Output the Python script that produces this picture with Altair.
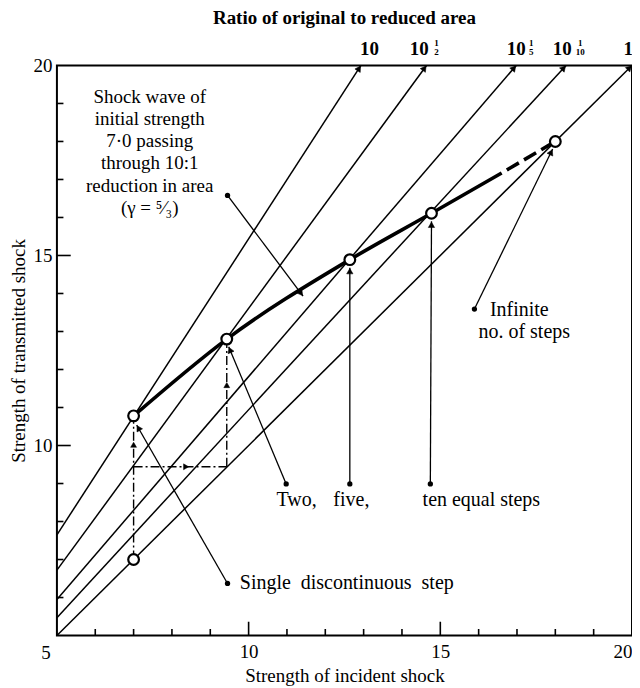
import math
import altair as alt
import pandas as pd

FONT = "Liberation Serif"
W, H = 576, 571
SPAN = 15.0

# ---------------- data ----------------
ratio_names = ["10", "10^(1/2)", "10^(1/5)", "10^(1/10)", "1"]
ratio_y_at_left = [7.65, 6.72, 5.95, 5.47, 5.0]      # transmitted strength at incident = 5
ratio_x_at_top = [12.93, 14.64, 16.98, 18.28, 20.0]  # incident strength at transmitted = 20

curve_x = [7.0, 9.43, 12.64, 14.77, 16.60]
curve_y = [10.78, 12.80, 14.89, 16.11, 17.17]
curve_tail_x = [16.60, 18.0]
curve_tail_y = [17.17, 18.0]

circle_x = [7.0, 7.0, 9.43, 12.64, 14.77, 18.0]
circle_y = [7.0, 10.78, 12.80, 14.89, 16.11, 18.0]

step_x0 = [7.0, 7.0, 9.43]
step_y0 = [7.0, 9.44, 9.44]
step_x1 = [7.0, 9.43, 9.43]
step_y1 = [10.78, 9.44, 12.80]
step_arrow_x = [7.0, 8.37, 9.43]
step_arrow_y = [10.02, 9.44, 11.59]

pointer_x0 = [9.45, 10.98, 12.64, 14.74, 9.45, 15.89]
pointer_y0 = [16.58, 8.99, 8.99, 8.99, 6.37, 13.59]
pointer_x1 = [11.42, 9.48, 12.64, 14.77, 7.08, 17.93]
pointer_y1 = [13.93, 12.60, 14.68, 15.90, 10.54, 17.80]

shock_text = ["Shock wave of", "initial strength", "7·0 passing",
              "through 10:1", "reduction in area", "(γ = ⁵⁄₃)"]
shock_text_x = [7.42] * 6
shock_text_y = [19.18, 18.58, 18.00, 17.42, 16.84, 16.24]

centre_text = ["Two,", "five,", "ten equal steps", "Infinite", "no. of steps"]
centre_text_x = [11.25, 12.68, 16.07, 17.06, 17.19]
centre_text_y = [8.57, 8.57, 8.57, 13.56, 12.98]

left_text = ["Single\u00a0\u00a0discontinuous\u00a0\u00a0step"]
left_text_x = [9.77]
left_text_y = [6.37]

top_base_text = ["10", "10", "10", "10", "1"]
top_base_x = [13.15, 14.45, 16.98, 18.18, 19.9]
top_base_y = [20.43] * 5
top_num_text = ["1", "1", "1"]
top_den_text = ["2", "5", "10"]
top_frac_x = [14.90, 17.37, 18.65]
top_num_y = [20.60] * 3
top_den_y = [20.36] * 3

title_text = ["Ratio of original to reduced area"]
title_x = [12.5]
title_y = [21.26]

minor_ticks = [6, 7, 8, 9, 11, 12, 13, 14, 16, 17, 18, 19]
major_ticks = [10, 15]
minor_len = 0.17
major_len = 0.36

# ---------------- helpers ----------------
xs = alt.Scale(domain=[5, 20], nice=False, zero=False)
ys = alt.Scale(domain=[5, 20], nice=False, zero=False)
ax_x = alt.Axis(values=[10, 15, 20], title="Strength of incident shock", grid=False,
                ticks=False, tickSize=0, domain=False, labelFont=FONT, labelFontSize=19,
                labelColor="black", labelPadding=7, labelFlush=True, labelOverlap=False,
                titleFont=FONT, titleFontSize=19, titleFontWeight="normal",
                titleColor="black", titlePadding=5, format="d")
ax_y = alt.Axis(values=[10, 15, 20], title="Strength of transmitted shock", grid=False,
                ticks=False, tickSize=0, domain=False, labelFont=FONT, labelFontSize=19,
                labelColor="black", labelPadding=5, labelOverlap=False,
                titleFont=FONT, titleFontSize=19, titleFontWeight="normal",
                titleColor="black", titlePadding=4, format="d")


def X(f):
    return alt.X(f, type="quantitative", scale=xs, axis=ax_x)


def Y(f):
    return alt.Y(f, type="quantitative", scale=ys, axis=ax_y)


def head(x0, y0, x1, y1, back_px):
    dxp = (x1 - x0) * W / SPAN
    dyp = (y1 - y0) * H / SPAN
    L = math.hypot(dxp, dyp)
    ang = math.degrees(math.atan2(dxp, dyp)) % 360
    bx = x1 - back_px * dxp / L / (W / SPAN)
    by = y1 - back_px * dyp / L / (H / SPAN)
    return bx, by, ang


# ---------------- frames ----------------
fam_rows = []
for n, yl, xt in zip(ratio_names, ratio_y_at_left, ratio_x_at_top):
    fam_rows.append({"name": n, "x": 5.0, "y": yl, "o": 0})
    fam_rows.append({"name": n, "x": xt, "y": 20.0, "o": 1})
fam_df = pd.DataFrame(fam_rows)

fam_head_rows = []
for yl, xt in zip(ratio_y_at_left, ratio_x_at_top):
    bx, by, a = head(5.0, yl, xt, 20.0, 3.5)
    fam_head_rows.append({"x": bx, "y": by, "a": a})
fam_head_df = pd.DataFrame(fam_head_rows)

curve_df = pd.DataFrame({"x": curve_x, "y": curve_y})
tail_df = pd.DataFrame({"x": curve_tail_x, "y": curve_tail_y})
circ_df = pd.DataFrame({"x": circle_x, "y": circle_y})

step_df = pd.DataFrame({"x": step_x0, "y": step_y0, "x2": step_x1, "y2": step_y1})
sh_rows = []
for ax_, ay_, x0, y0, x1, y1 in zip(step_arrow_x, step_arrow_y, step_x0, step_y0, step_x1, step_y1):
    _, _, a = head(x0, y0, x1, y1, 1.0)
    sh_rows.append({"x": ax_, "y": ay_, "a": a})
step_head_df = pd.DataFrame(sh_rows)

ptr_df = pd.DataFrame({"x": pointer_x0, "y": pointer_y0, "x2": pointer_x1, "y2": pointer_y1})
ph_rows = []
for x0, y0, x1, y1 in zip(pointer_x0, pointer_y0, pointer_x1, pointer_y1):
    bx, by, a = head(x0, y0, x1, y1, 3.5)
    ph_rows.append({"x": bx, "y": by, "a": a})
ptr_head_df = pd.DataFrame(ph_rows)
ptr_dot_df = pd.DataFrame({"x": pointer_x0, "y": pointer_y0})

tick_rows = []
for v in minor_ticks + major_ticks:
    L = major_len if v in major_ticks else minor_len
    tick_rows.append({"x": v, "y": 5.0, "x2": v, "y2": 5.0 + L * W / H})
    tick_rows.append({"x": 5.0, "y": v, "x2": 5.0 + L, "y2": v})
tick_df = pd.DataFrame(tick_rows)

shock_df = pd.DataFrame({"x": shock_text_x, "y": shock_text_y, "t": shock_text})
centre_df = pd.DataFrame({"x": centre_text_x, "y": centre_text_y, "t": centre_text})
left_df = pd.DataFrame({"x": left_text_x, "y": left_text_y, "t": left_text})
tb_df = pd.DataFrame({"x": top_base_x, "y": top_base_y, "t": top_base_text})
tn_df = pd.DataFrame({"x": top_frac_x, "y": top_num_y, "t": top_num_text})
td_df = pd.DataFrame({"x": top_frac_x, "y": top_den_y, "t": top_den_text})
title_df = pd.DataFrame({"x": title_x, "y": title_y, "t": title_text})
corner_df = pd.DataFrame({"x": [5.0], "y": [5.0], "t": ["5"]})

# ---------------- layers ----------------
ticks = alt.Chart(tick_df).mark_rule(color="black", strokeWidth=1.6).encode(
    x=X("x"), y=Y("y"), x2="x2", y2="y2")

family = alt.Chart(fam_df).mark_line(color="black", strokeWidth=1.5).encode(
    x=X("x"), y=Y("y"), detail="name:N", order="o:Q")


def heads(df, size):
    return alt.Chart(df).mark_point(
        shape="triangle-up", filled=True, fill="black", stroke="black",
        strokeWidth=0.5, size=size, opacity=1, fillOpacity=1).encode(
        x=X("x"), y=Y("y"), angle=alt.Angle("a:Q", scale=None))


steps = alt.Chart(step_df).mark_rule(color="black", strokeWidth=1.4,
                                     strokeDash=[9, 3, 2, 3]).encode(
    x=X("x"), y=Y("y"), x2="x2", y2="y2")

pointers = alt.Chart(ptr_df).mark_rule(color="black", strokeWidth=1.3).encode(
    x=X("x"), y=Y("y"), x2="x2", y2="y2")

ptr_dots = alt.Chart(ptr_dot_df).mark_point(
    shape="circle", filled=True, color="black", size=28, opacity=1).encode(
    x=X("x"), y=Y("y"))

curve = alt.Chart(curve_df).mark_line(color="black", strokeWidth=3.6,
                                      interpolate="monotone").encode(x=X("x"), y=Y("y"))

tail = alt.Chart(tail_df).mark_line(color="black", strokeWidth=3.6,
                                    strokeDash=[14, 6], strokeDashOffset=-6).encode(
    x=X("x"), y=Y("y"))

circles = alt.Chart(circ_df).mark_point(
    shape="circle", size=115, fill="white", fillOpacity=1, stroke="black",
    strokeWidth=2.2, opacity=1).encode(x=X("x"), y=Y("y"))


def txt(df, size=20, align="center", baseline="middle", weight="normal", **kw):
    return alt.Chart(df).mark_text(font=FONT, fontSize=size, align=align,
                                   baseline=baseline, fontWeight=weight,
                                   color="black", **kw).encode(
        x=X("x"), y=Y("y"), text="t:N")


layers = [
    ticks, family, heads(fam_head_df, 40), steps, heads(step_head_df, 35),
    pointers, heads(ptr_head_df, 40), ptr_dots,
    curve, tail, circles,
    txt(shock_df, size=19), txt(centre_df), txt(left_df, align="left"),
    txt(tb_df, size=19, weight="bold"),
    txt(tn_df, size=9, weight="bold"), txt(td_df, size=9, weight="bold"),
    txt(title_df, size=19, weight="bold"),
    txt(corner_df, size=19, dx=-11, dy=17),
]

chart = alt.layer(*layers).properties(
    width=W, height=H,
    autosize=alt.AutoSizeParams(type="none"),
    padding={"left": 49, "top": 57, "right": 0, "bottom": 52},
    background="white",
).configure_view(stroke="black", strokeWidth=2)

chart.save("out.html", embed_options={"renderer": "svg", "actions": False})
